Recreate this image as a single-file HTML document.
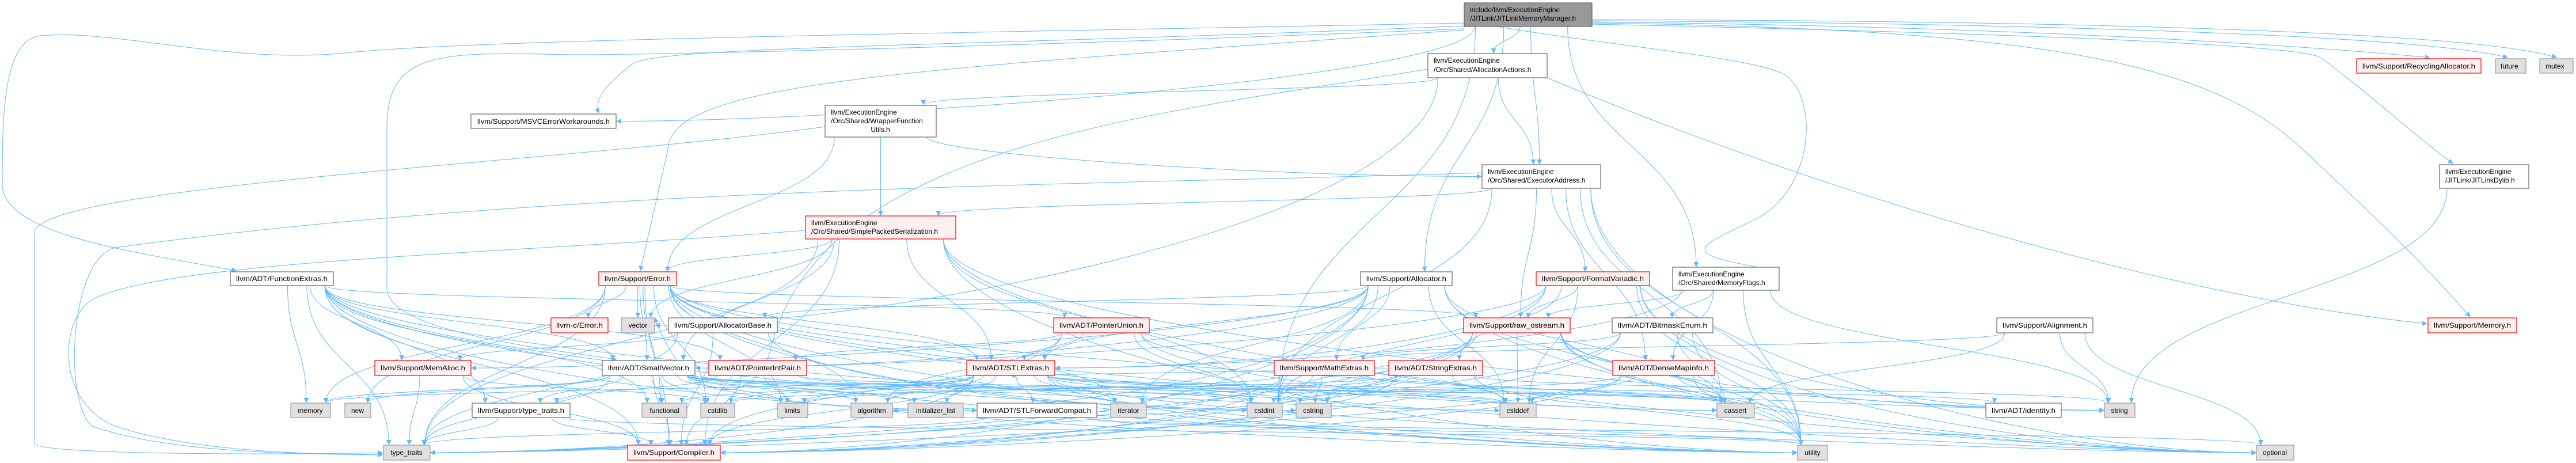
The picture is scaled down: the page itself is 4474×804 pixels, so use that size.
<!DOCTYPE html>
<html><head><meta charset="utf-8"><style>
html,body{margin:0;padding:0;background:#fff;overflow:hidden;}
svg{display:block;}
text{font-family:"Liberation Sans",Arial,sans-serif;font-size:12px;fill:#000;}
.w{fill:#fff;stroke:#666;stroke-width:1.2}
.r{fill:#fff0f0;stroke:#f00;stroke-width:1.2}
.g{fill:#e0e0e0;stroke:#999;stroke-width:1.2}
.m{fill:#999;stroke:#666;stroke-width:1.2}
.e{fill:none;stroke:#63b8ff;stroke-width:1}
</style></head><body>
<svg id="s" width="4474" height="804" viewBox="0 0 4474 804" xmlns="http://www.w3.org/2000/svg">
<defs><marker id="a" viewBox="0 0 10 10" refX="9" refY="5" markerWidth="9" markerHeight="9" orient="auto" markerUnits="userSpaceOnUse"><path d="M0,0L10,5L0,10z" fill="#63b8ff"/></marker></defs>
<g id="edges">
<path class="e" marker-end="url(#a)" d="M2543,40 C1500,60 800,70 600,92 C400,112 200,50 70,62 C5,70 4,200 4,320 C4,410 250,440 410,470"/>
<path class="e" marker-end="url(#a)" d="M2543,50 C1800,80 1150,95 1000,95 C780,92 672,80 672,220 L672,500 C672,570 900,600 1070,624"/>
<path class="e" marker-end="url(#a)" d="M2543,52 C1600,120 1160,140 1160,260 L1112,470"/>
<path class="e" marker-end="url(#a)" d="M2543,45 C1700,80 1150,80 1100,110 C1060,140 1030,170 1040,196"/>
<path class="e" marker-end="url(#a)" d="M2600,46 C2800,80 3050,100 3100,130 C3160,170 3150,330 3050,380 C2950,430 2900,440 3090,470"/>
<path class="e" marker-end="url(#a)" d="M2765,40 C3600,50 3850,120 4000,260 C4150,400 4220,470 4290,550"/>
<path class="e" marker-end="url(#a)" d="M2765,38 C3400,45 3900,70 4220,100"/>
<path class="e" marker-end="url(#a)" d="M2765,36 C3500,40 4200,60 4355,100"/>
<path class="e" marker-end="url(#a)" d="M2765,34 C3600,36 4300,55 4440,100"/>
<path class="e" marker-end="url(#a)" d="M2765,42 C3600,60 4000,80 4030,100 C4100,150 4200,240 4260,284"/>
<path class="e" marker-end="url(#a)" d="M2480,120 C2000,200 1430,250 1340,600 C1320,700 1200,720 1137,552"/>
<path class="e" marker-end="url(#a)" d="M2687,135 C3200,350 3800,520 4215,562"/>
<path class="e" marker-end="url(#a)" d="M1433,220 C1000,280 100,320 60,400 L60,770 C60,790 500,790 664,786"/>
<path class="e" marker-end="url(#a)" d="M1400,400 C900,440 300,450 160,520 C100,560 100,700 200,740 C350,790 600,790 664,788"/>
<path class="e" marker-end="url(#a)" d="M2574,300 C2000,320 1000,320 200,430 C120,450 110,700 160,740 C300,790 550,788 664,790"/>
</g>
<g id="nodes">
<rect id="main" class="m" x="2543" y="5" width="222" height="41"/><text x="2553" y="21">include/llvm/ExecutionEngine</text><text x="2553" y="36">/JITLink/JITLinkMemoryManager.h</text>
<rect id="AA" class="w" x="2480" y="93" width="207" height="42"/><text x="2490" y="109">llvm/ExecutionEngine</text><text x="2490" y="125">/Orc/Shared/AllocationActions.h</text>
<rect id="RA" class="r" x="4093" y="102" width="216" height="25"/><text x="4103" y="119" textLength="196" lengthAdjust="spacingAndGlyphs">llvm/Support/RecyclingAllocator.h</text>
<rect id="future" class="g" x="4334" y="102" width="53" height="25"/><text x="4343" y="119">future</text>
<rect id="mutex" class="g" x="4411" y="102" width="58" height="25"/><text x="4421" y="119">mutex</text>
<rect id="MSVC" class="w" x="818" y="198" width="252" height="25"/><text x="829" y="215" textLength="230" lengthAdjust="spacingAndGlyphs">llvm/Support/MSVCErrorWorkarounds.h</text>
<rect id="WFU" class="w" x="1433" y="183" width="193" height="55"/><text x="1443" y="199">llvm/ExecutionEngine</text><text x="1443" y="214">/Orc/Shared/WrapperFunction</text><text x="1529" y="229" text-anchor="middle">Utils.h</text>
<rect id="EA" class="w" x="2574" y="286" width="206" height="41"/><text x="2584" y="302">llvm/ExecutionEngine</text><text x="2584" y="317">/Orc/Shared/ExecutorAddress.h</text>
<rect id="JLD" class="w" x="4237" y="286" width="155" height="41"/><text x="4247" y="302">llvm/ExecutionEngine</text><text x="4247" y="317">/JITLink/JITLinkDylib.h</text>
<rect id="SPS" class="r" x="1399" y="375" width="261" height="40"/><text x="1409" y="391">llvm/ExecutionEngine</text><text x="1409" y="406">/Orc/Shared/SimplePackedSerialization.h</text>
<rect id="FE" class="w" x="400" y="472" width="179" height="24"/><text x="410" y="488" textLength="159" lengthAdjust="spacingAndGlyphs">llvm/ADT/FunctionExtras.h</text>
<rect id="ERR" class="r" x="1040" y="472" width="135" height="24"/><text x="1050" y="488" textLength="115" lengthAdjust="spacingAndGlyphs">llvm/Support/Error.h</text>
<rect id="ALC" class="w" x="2363" y="472" width="159" height="24"/><text x="2373" y="488" textLength="139" lengthAdjust="spacingAndGlyphs">llvm/Support/Allocator.h</text>
<rect id="FV" class="r" x="2668" y="472" width="197" height="24"/><text x="2678" y="488" textLength="177" lengthAdjust="spacingAndGlyphs">llvm/Support/FormatVariadic.h</text>
<rect id="MF" class="w" x="2905" y="464" width="185" height="40"/><text x="2915" y="480">llvm/ExecutionEngine</text><text x="2915" y="495">/Orc/Shared/MemoryFlags.h</text>
<rect id="CERR" class="r" x="957" y="552" width="99" height="26"/><text x="966" y="569" textLength="81" lengthAdjust="spacingAndGlyphs">llvm-c/Error.h</text>
<rect id="VEC" class="g" x="1079" y="552" width="58" height="26"/><text x="1108" y="569" text-anchor="middle">vector</text>
<rect id="AB" class="w" x="1161" y="552" width="189" height="26"/><text x="1171" y="569" textLength="169" lengthAdjust="spacingAndGlyphs">llvm/Support/AllocatorBase.h</text>
<rect id="PU" class="r" x="1830" y="552" width="166" height="26"/><text x="1840" y="569" textLength="146" lengthAdjust="spacingAndGlyphs">llvm/ADT/PointerUnion.h</text>
<rect id="RO" class="r" x="2542" y="552" width="185" height="26"/><text x="2552" y="569" textLength="165" lengthAdjust="spacingAndGlyphs">llvm/Support/raw_ostream.h</text>
<rect id="BE" class="w" x="2800" y="552" width="175" height="26"/><text x="2810" y="569" textLength="155" lengthAdjust="spacingAndGlyphs">llvm/ADT/BitmaskEnum.h</text>
<rect id="AL" class="w" x="3468" y="552" width="167" height="26"/><text x="3478" y="569" textLength="147" lengthAdjust="spacingAndGlyphs">llvm/Support/Alignment.h</text>
<rect id="MEM" class="r" x="4217" y="552" width="154" height="26"/><text x="4227" y="569" textLength="134" lengthAdjust="spacingAndGlyphs">llvm/Support/Memory.h</text>
<rect id="MA" class="r" x="651" y="626" width="167" height="26"/><text x="661" y="643" textLength="147" lengthAdjust="spacingAndGlyphs">llvm/Support/MemAlloc.h</text>
<rect id="SV" class="w" x="1046" y="626" width="161" height="26"/><text x="1056" y="643" textLength="141" lengthAdjust="spacingAndGlyphs">llvm/ADT/SmallVector.h</text>
<rect id="PIP" class="r" x="1231" y="626" width="170" height="26"/><text x="1241" y="643" textLength="150" lengthAdjust="spacingAndGlyphs">llvm/ADT/PointerIntPair.h</text>
<rect id="STL" class="r" x="1679" y="626" width="153" height="26"/><text x="1689" y="643" textLength="133" lengthAdjust="spacingAndGlyphs">llvm/ADT/STLExtras.h</text>
<rect id="ME" class="r" x="2213" y="626" width="174" height="26"/><text x="2223" y="643" textLength="154" lengthAdjust="spacingAndGlyphs">llvm/Support/MathExtras.h</text>
<rect id="SE" class="r" x="2412" y="626" width="163" height="26"/><text x="2422" y="643" textLength="143" lengthAdjust="spacingAndGlyphs">llvm/ADT/StringExtras.h</text>
<rect id="DMI" class="r" x="2801" y="626" width="177" height="26"/><text x="2811" y="643" textLength="157" lengthAdjust="spacingAndGlyphs">llvm/ADT/DenseMapInfo.h</text>
<rect id="memory" class="g" x="505" y="700" width="69" height="25"/><text x="539" y="717" text-anchor="middle">memory</text>
<rect id="new" class="g" x="599" y="700" width="45" height="25"/><text x="621" y="717" text-anchor="middle">new</text>
<rect id="TTH" class="w" x="820" y="700" width="170" height="25"/><text x="830" y="717" textLength="150" lengthAdjust="spacingAndGlyphs">llvm/Support/type_traits.h</text>
<rect id="functional" class="g" x="1115" y="700" width="78" height="25"/><text x="1154" y="717" text-anchor="middle">functional</text>
<rect id="cstdlib" class="g" x="1217" y="700" width="59" height="25"/><text x="1246" y="717" text-anchor="middle">cstdlib</text>
<rect id="limits" class="g" x="1350" y="700" width="53" height="25"/><text x="1376" y="717" text-anchor="middle">limits</text>
<rect id="algorithm" class="g" x="1478" y="700" width="72" height="25"/><text x="1514" y="717" text-anchor="middle">algorithm</text>
<rect id="il" class="g" x="1577" y="700" width="96" height="25"/><text x="1625" y="717" text-anchor="middle">initializer_list</text>
<rect id="SFC" class="w" x="1697" y="700" width="208" height="25"/><text x="1707" y="717" textLength="188" lengthAdjust="spacingAndGlyphs">llvm/ADT/STLForwardCompat.h</text>
<rect id="iterator" class="g" x="1929" y="700" width="62" height="25"/><text x="1960" y="717" text-anchor="middle">iterator</text>
<rect id="cstdint" class="g" x="2166" y="700" width="61" height="25"/><text x="2196" y="717" text-anchor="middle">cstdint</text>
<rect id="cstring" class="g" x="2251" y="700" width="61" height="25"/><text x="2281" y="717" text-anchor="middle">cstring</text>
<rect id="cstddef" class="g" x="2605" y="700" width="63" height="25"/><text x="2636" y="717" text-anchor="middle">cstddef</text>
<rect id="cassert" class="g" x="2982" y="700" width="65" height="25"/><text x="3014" y="717" text-anchor="middle">cassert</text>
<rect id="ID" class="w" x="3449" y="700" width="131" height="25"/><text x="3459" y="717" textLength="111" lengthAdjust="spacingAndGlyphs">llvm/ADT/identity.h</text>
<rect id="string" class="g" x="3655" y="700" width="53" height="25"/><text x="3681" y="717" text-anchor="middle">string</text>
<rect id="tt" class="g" x="666" y="773" width="81" height="26"/><text x="706" y="790" text-anchor="middle">type_traits</text>
<rect id="CMP" class="r" x="1090" y="773" width="161" height="26"/><text x="1100" y="790" textLength="141" lengthAdjust="spacingAndGlyphs">llvm/Support/Compiler.h</text>
<rect id="utility" class="g" x="3122" y="773" width="52" height="26"/><text x="3148" y="790" text-anchor="middle">utility</text>
<rect id="optional" class="g" x="3919" y="773" width="65" height="26"/><text x="3951" y="790" text-anchor="middle">optional</text>
</g>
</svg>
<script>
(function(){
var E={
main:["AA","EA","MF","ALC","cstdint","MSVC"],
AA:["WFU","EA","VEC"],
WFU:["EA","SPS","ERR"],
EA:["SPS","RO","FV","cassert","cstdint","DMI","utility","optional"],
SPS:["ERR","STL","SV","VEC","tt","string","utility","optional","cstdint","CMP"],
ERR:["CERR","VEC","SV","STL","CMP","RO","memory","new","tt","cassert","cstdint","cstdlib","functional","string","utility","optional","algorithm","iterator","limits"],
FE:["MA","TTH","PIP","PU","SFC","memory","tt","SV","CMP","cstddef","cstring","utility","functional"],
ALC:["AB","ME","SV","CMP","STL","cstddef","cstdint","cassert","utility","iterator","algorithm","MA","optional"],
FV:["RO","STL","SV","cstddef","string","optional","utility","SE","cstdint"],
MF:["BE","DMI","RO","STL","string","utility"],
AB:["MA","CMP","tt","utility"],
PU:["PIP","STL","CMP","algorithm","cassert","cstddef","cstdint"],
RO:["CMP","cassert","cstddef","cstdint","cstring","string","optional","tt","utility"],
BE:["ME","CMP","cassert","tt","utility"],
AL:["ME","cassert","string","optional"],
JLD:["string"],
SV:["CMP","tt","algorithm","cassert","cstddef","cstdlib","cstring","functional","il","iterator","limits","memory","new","TTH","utility"],
PIP:["CMP","TTH","cassert","cstdint","limits"],
MA:["CMP","cstdlib","tt"],
STL:["SFC","ID","iterator","algorithm","il","cassert","cstddef","cstdint","cstdlib","functional","limits","memory","optional","tt","utility","CMP"],
ME:["CMP","cassert","cstdint","cstring","limits","tt"],
SE:["STL","cstddef","cstdint","cstdlib","cstring","iterator","string","utility","CMP"],
DMI:["cassert","cstddef","cstdint","tt","utility","CMP"],
TTH:["CMP","tt","utility"],
SFC:["optional","tt","utility"]
};
function box(id){var r=document.getElementById(id);var x=+r.getAttribute("x"),y=+r.getAttribute("y"),w=+r.getAttribute("width"),h=+r.getAttribute("height");return{x:x,y:y,w:w,h:h,cx:x+w/2,cy:y+h/2};}
var g=document.getElementById("edges"),NS="http://www.w3.org/2000/svg";
function cl(v,a){return Math.max(-a,Math.min(a,v));}
for(var s in E){var S=box(s);E[s].forEach(function(t){var T=box(t);var d;
 var sx=S.cx+cl((T.cx-S.cx)*0.2,S.w/2.4),sy=S.y+S.h;
 if(T.y>=S.y+S.h-2){
  var ex=T.cx+cl((S.cx-T.cx)*0.15,T.w/2.6),ey=T.y-1;
  var dy=ey-sy;
  if(Math.abs(T.cx-S.cx)>900&&T.y-S.y>90){
   var side=S.cx<T.cx?T.x-1:T.x+T.w+1;ex=side;ey=T.cy;
   d="M"+sx+","+sy+" C"+sx+","+(sy+dy*0.6)+" "+(ex+(S.cx<T.cx?-400:400))+","+ey+" "+ex+","+ey;
  } else d="M"+sx+","+sy+" C"+sx+","+(sy+dy*0.5)+" "+ex+","+(ey-dy*0.5)+" "+ex+","+ey;
 } else {d="M"+S.cx+","+S.cy+" L"+T.cx+","+(T.y+T.h);}
 var p=document.createElementNS(NS,"path");p.setAttribute("class","e");p.setAttribute("marker-end","url(#a)");p.setAttribute("d",d);g.appendChild(p);});}
})();
</script>
</body></html>
